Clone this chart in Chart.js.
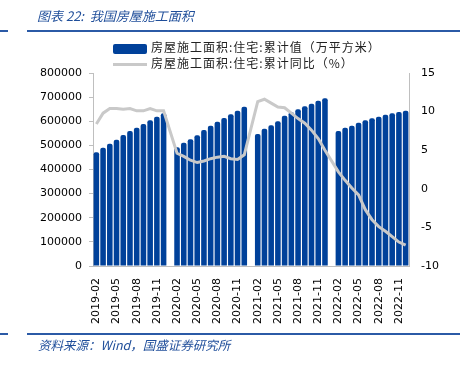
<!DOCTYPE html>
<html>
<head>
<meta charset="utf-8">
<script src="https://cdn.jsdelivr.net/npm/chart.js@4"></script>
<style>
  body { margin: 0; background: #fff; }
  #wrap { position: relative; width: 460px; height: 365px; overflow: hidden; }
  #chart { position: absolute; left: 0; top: 0; }
  .rule { position: absolute; height: 2px; background: #2b5aa6; }
  .title, .source { position: absolute; font-family: "Noto Sans CJK SC", "DejaVu Sans", sans-serif;
    font-style: italic; color: #1f4e9a; white-space: nowrap; }
  .title { left: 37px; top: 6px; font-size: 13px; }
  .source { left: 38px; top: 335px; font-size: 12.5px; }
  .leg { position: absolute; left: 113px; font-family: "Noto Sans CJK SC", sans-serif; font-size: 12px;
    letter-spacing: 1px; color: #222; white-space: nowrap; }
  .leg i { display: inline-block; width: 34px; vertical-align: middle; margin-right: 4px; }
</style>
</head>
<body>
<div id="wrap">
  <canvas id="chart" width="460" height="365"></canvas>
  <div class="title">图表 22:&nbsp; 我国房屋施工面积</div>
  <div class="rule" style="left:0;top:30px;width:8px"></div>
  <div class="rule" style="left:27px;top:30px;width:433px"></div>
  <div class="leg" style="top:38px"><i style="height:10px;background:#00419a;border-radius:2px"></i>房屋施工面积:住宅:累计值（万平方米）</div>
  <div class="leg" style="top:54px"><i style="height:3px;background:#c9c9c9"></i>房屋施工面积:住宅:累计同比（%）</div>
  <div class="rule" style="left:0;top:333px;width:8px"></div>
  <div class="rule" style="left:27px;top:333px;width:433px"></div>
  <div class="source">资料来源：Wind，国盛证券研究所</div>
</div>
<script>
const months = [
  '2019-02','2019-03','2019-04','2019-05','2019-06','2019-07','2019-08','2019-09','2019-10','2019-11','2019-12',
  '2020-01','2020-02','2020-03','2020-04','2020-05','2020-06','2020-07','2020-08','2020-09','2020-10','2020-11','2020-12',
  '2021-01','2021-02','2021-03','2021-04','2021-05','2021-06','2021-07','2021-08','2021-09','2021-10','2021-11','2021-12',
  '2022-01','2022-02','2022-03','2022-04','2022-05','2022-06','2022-07','2022-08','2022-09','2022-10','2022-11','2022-12'
];

// 累计值（万平方米），一月无数据
const areaCum = [
  471300, 490400, 506900, 523500, 543000, 559600, 573300, 588600, 603900, 618900, 633000,
  null, 492000, 511100, 525200, 541800, 563700, 581600, 598100, 613500, 628800, 643700, 660300,
  null, 547200, 569200, 583200, 599800, 623100, 637000, 649500, 661900, 672900, 685200, 695100,
  null, 559600, 573300, 581600, 594000, 603900, 612200, 618900, 627200, 633000, 638300, 643700
];

// 累计同比（%）
const areaYoy = [
  8.4, 9.8, 10.4, 10.4, 10.3, 10.4, 10.1, 10.1, 10.4, 10.1, 10.1,
  null, 4.6, 4.2, 3.7, 3.4, 3.6, 3.9, 4.1, 4.2, 3.9, 3.8, 4.4,
  null, 11.3, 11.6, 11.1, 10.6, 10.5, 9.8, 9.1, 8.5, 7.6, 6.5, 5.0,
  null, 2.2, 1.1, 0.1, -0.8, -2.7, -4.0, -4.9, -5.5, -6.2, -6.9, -7.3
];

const tickFont = { family: 'DejaVu Sans', size: 11 };

new Chart(document.getElementById('chart'), {
  type: 'bar',
  data: {
    labels: months,
    datasets: [{
      type: 'line',
      label: '房屋施工面积:住宅:累计同比（%）',
      data: areaYoy,
      yAxisID: 'y1',
      borderColor: '#c9c9c9',
      borderWidth: 3,
      pointRadius: 0,
      spanGaps: true,
      tension: 0,
      order: 0
    }, {
      label: '房屋施工面积:住宅:累计值（万平方米）',
      data: areaCum,
      yAxisID: 'y',
      backgroundColor: '#00419a',
      categoryPercentage: 0.9,
      barPercentage: 0.92,
      borderRadius: { topLeft: 2, topRight: 2 },
      order: 1
    }]
  },
  options: {
    responsive: false,
    animation: false,
    layout: { padding: { left: 0, right: 0, top: 73, bottom: 39 } },
    plugins: { legend: { display: false }, tooltip: { enabled: false } },
    scales: {
      x: {
        offset: true,
        grid: { display: false },
        border: { color: '#bfbfbf' },
        ticks: {
          autoSkip: false,
          maxRotation: 90,
          minRotation: 90,
          padding: 4,
          color: '#000',
          font: tickFont,
          callback: function(value, index) {
            return index % 3 === 0 ? months[index] : '';
          }
        },
        afterFit: function(scale) { scale.height = 60; }
      },
      y: {
        position: 'left',
        min: 0,
        max: 800000,
        grid: { drawOnChartArea: false, tickLength: 4, color: '#bfbfbf' },
        border: { color: '#bfbfbf' },
        ticks: {
          stepSize: 100000, padding: 7, color: '#000', font: tickFont,
          callback: function(value) { return String(value); }
        },
        afterFit: function(scale) { scale.width = 93; }
      },
      y1: {
        position: 'right',
        min: -10,
        max: 15,
        grid: { drawOnChartArea: false, drawTicks: false },
        border: { color: '#bfbfbf' },
        ticks: {
          stepSize: 5, padding: 12, color: '#000', font: tickFont,
          callback: function(value) { return String(value); }
        },
        afterFit: function(scale) { scale.width = 51; }
      }
    }
  }
});
</script>
</body>
</html>
